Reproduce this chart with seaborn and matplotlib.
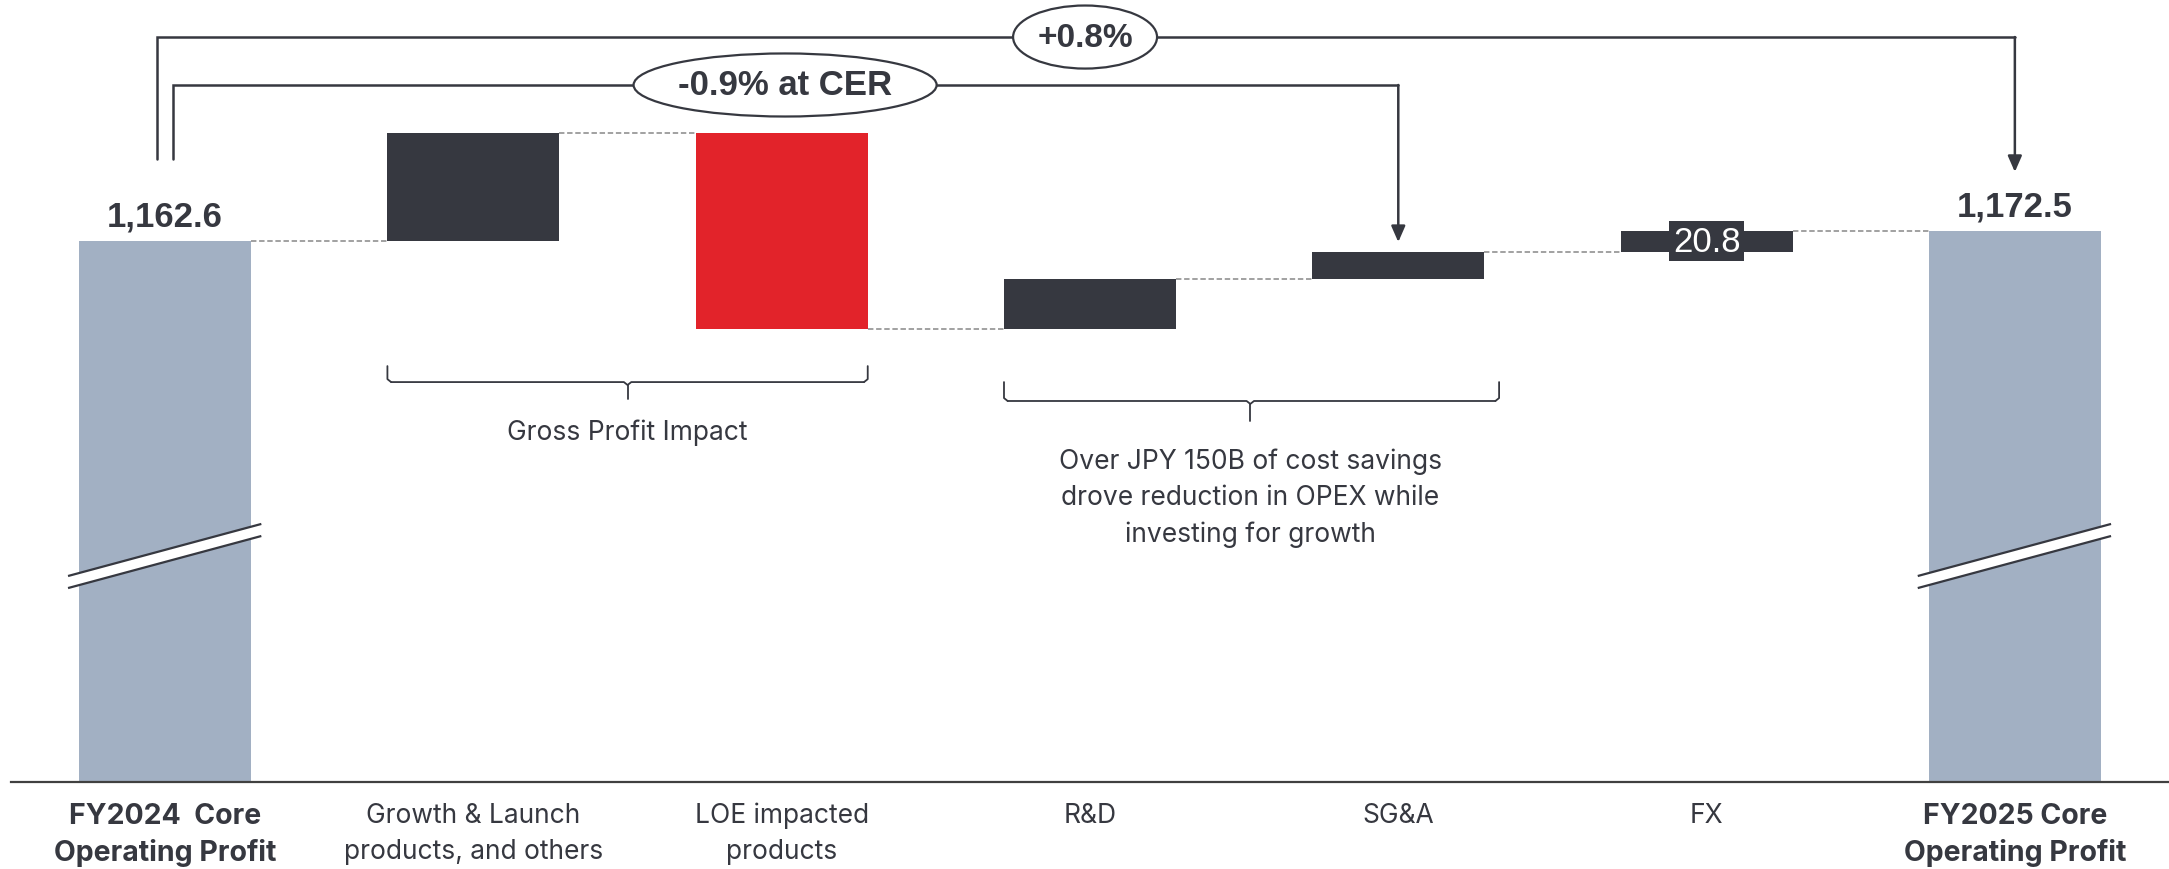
import matplotlib
matplotlib.use("Agg")
import matplotlib.pyplot as plt
import seaborn as sns
import numpy as np
import pandas as pd
from matplotlib.patches import Ellipse, Polygon

# ---------------- data ----------------
categories = ["FY2024  Core\nOperating Profit", "Growth & Launch\nproducts, and others",
              "LOE impacted\nproducts", "R&D", "SG&A", "FX", "FY2025 Core\nOperating Profit"]
start_value = 1162.6
deltas = [110.2, -199.5, 50.6, 27.8, 20.8]
end_value = 1172.5
start_label = "1,162.6"
end_label = "1,172.5"
fx_label = "20.8"
growth_label = "+0.8%"
cer_label = "-0.9% at CER"
note_gross = "Gross Profit Impact"
note_opex = "Over JPY 150B of cost savings\ndrove reduction in OPEX while\ninvesting for growth"

# ---------------- style ----------------
sns.set_theme(style="white")
plt.rcParams['font.family'] = ['Inter', 'DejaVu Sans']
NUMFONT = ['Liberation Sans', 'DejaVu Sans']

DARK = "#363840"
RED = "#E2232A"
TOTAL = "#A2B0C3"
GRAY = "#9a9a9a"

levels = [start_value]
for d in deltas:
    levels.append(levels[-1] + d)
bottoms = [0.0]
heights = [start_value]
for i, d in enumerate(deltas):
    bottoms.append(min(levels[i], levels[i + 1]))
    heights.append(abs(d))
bottoms.append(0.0)
heights.append(end_value)
colors = [TOTAL, DARK, RED, DARK, DARK, DARK, TOTAL]

df = pd.DataFrame({"category": categories, "height": heights})

W, H = 2169, 870
fig = plt.figure(figsize=(W / 100, H / 100), dpi=100)
ax = fig.add_axes([11 / W, 1 - 783.3 / H, 1 - 11 / W, 783.3 / H])

BW = 0.558
sns.barplot(data=df, x="category", y="height", color=DARK, bottom=np.array(bottoms),
            width=BW, ax=ax, saturation=1, errorbar=None)
for p, c in zip(ax.patches, colors):
    p.set_facecolor(c)
    p.set_edgecolor("none")

ax.set_xlim(-0.5, 6.5)
ax.set_ylim(610.5, 1409.4)
ax.set_xlabel("")
ax.set_ylabel("")
ax.set_yticks([])
for s in ["left", "top", "right"]:
    ax.spines[s].set_visible(False)
ax.spines["bottom"].set_color("#404040")
ax.spines["bottom"].set_linewidth(1.6)
ax.tick_params(axis="x", length=0, pad=14)
ax.set_xticks(range(len(categories)))
ax.set_xticklabels(categories, fontsize=19, color=DARK, linespacing=1.5)
for i, t in enumerate(ax.get_xticklabels()):
    if i in (0, len(categories) - 1):
        t.set_fontweight("bold")
        t.set_fontsize(20.5)
        t.set_linespacing(1.4)

# dashed connectors
for i in range(len(levels)):
    ax.plot([i + BW / 2, i + 1 - BW / 2], [levels[i], levels[i]], color=GRAY,
            lw=1.3, ls=(0, (3, 1.5)), zorder=1)

# value labels
ax.annotate(start_label, xy=(0, start_value), xytext=(0, 11), textcoords="offset points",
            ha="center", va="baseline", fontsize=25, fontweight="bold", color=DARK,
            family=NUMFONT)
ax.annotate(end_label, xy=(6, end_value), xytext=(0, 11), textcoords="offset points",
            ha="center", va="baseline", fontsize=25, fontweight="bold", color=DARK,
            family=NUMFONT)
ax.text(5, levels[4] + deltas[4] / 2, fx_label, ha="center", va="center", fontsize=25,
        color="white", family=NUMFONT,
        bbox=dict(boxstyle="square,pad=0.1", fc=DARK, ec="none"), zorder=6)

# axis break marks
for xc in (0, 6):
    x0, x1 = xc - 0.315, xc + 0.312
    lo = [820.9, 874.0]
    hi = [808.6, 861.7]
    poly = Polygon([[x0, lo[0]], [x1, lo[1]], [x1, hi[1]], [x0, hi[0]]], closed=True,
                   fc="white", ec="none", zorder=4)
    ax.add_patch(poly)
    ax.plot([x0, x1], lo, color=DARK, lw=1.6, zorder=5, solid_capstyle="butt")
    ax.plot([x0, x1], hi, color=DARK, lw=1.6, zorder=5, solid_capstyle="butt")

# top connectors
y_out, y_in = 1370.6, 1321.7
y_base = start_value + 83.6
ax.plot([-0.026, -0.026, 6], [y_base, y_out, y_out], color=DARK, lw=1.8, zorder=3,
        solid_joinstyle="miter")
ax.annotate("", xy=(6, end_value + 60.5), xytext=(6, y_out),
            arrowprops=dict(arrowstyle="-|>,head_length=0.8,head_width=0.35", color=DARK,
                            lw=1.8, shrinkA=0, shrinkB=0), zorder=3)
ax.plot([0.026, 0.026, 4], [y_base, y_in, y_in], color=DARK, lw=1.8, zorder=3,
        solid_joinstyle="miter")
ax.annotate("", xy=(4, levels[4] + 9.8), xytext=(4, y_in),
            arrowprops=dict(arrowstyle="-|>,head_length=0.8,head_width=0.35", color=DARK,
                            lw=1.8, shrinkA=0, shrinkB=0), zorder=3)

ax.add_patch(Ellipse((2.984, y_out), 0.467, 64.3, fc="white", ec=DARK, lw=1.6, zorder=5))
ax.text(2.984, y_out, growth_label, ha="center", va="center", fontsize=24,
        fontweight="bold", color=DARK, zorder=6, family=NUMFONT)
ax.add_patch(Ellipse((2.011, y_in), 0.983, 64.3, fc="white", ec=DARK, lw=1.6, zorder=5))
ax.text(2.011, y_in, cer_label, ha="center", va="center", fontsize=25,
        fontweight="bold", color=DARK, zorder=6, family=NUMFONT)

# brackets
def bracket(x0, x1, xm, ytop, yh, ytip):
    r = 0.012
    ax.plot([x0, x0, x0 + r], [ytop, yh + 3, yh], color=DARK, lw=1.3)
    ax.plot([x0 + r, xm - r, xm, xm + r, x1 - r], [yh, yh, yh - 3, yh, yh], color=DARK, lw=1.3)
    ax.plot([x1 - r, x1, x1], [yh, yh + 3, ytop], color=DARK, lw=1.3)
    ax.plot([xm, xm], [yh - 3, ytip], color=DARK, lw=1.3)

bracket(1 - BW / 2, 2 + BW / 2, 1.5, 1035.0, 1018.7, 1001.4)
ax.text(1.5, 967.7, note_gross, ha="center", va="center", fontsize=19, color=DARK)
bracket(3 - BW / 2, 4.327, 3.52, 1018.7, 999.4, 979.0)
ax.text(3.52, 901.4, note_opex, ha="center", va="center", fontsize=19, color=DARK,
        linespacing=1.5)

fig.savefig("out.png", dpi=100)
